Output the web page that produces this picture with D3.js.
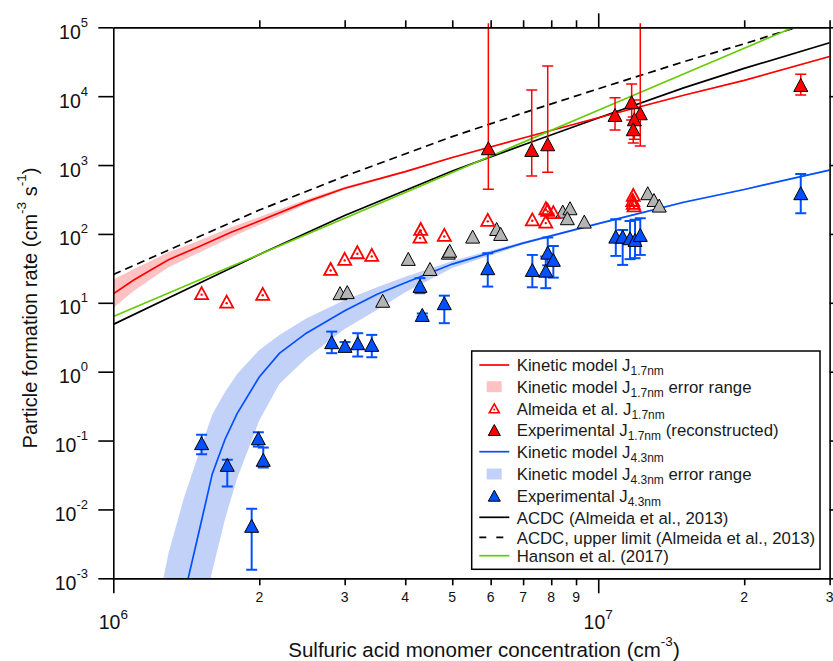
<!DOCTYPE html>
<html>
<head>
<meta charset="utf-8">
<script src="https://cdn.jsdelivr.net/npm/d3@7"></script>
<style>
body { margin: 0; background: #fff; }
svg { font-family: "Liberation Sans", Arial, sans-serif; }
</style>
</head>
<body>
<div id="chart"></div>
<script>
const width = 833,
    height = 661;

// kinetic model J1.7nm and its error range
const kinX17 = [1e6, 1.1e6, 1.2e6, 1.3e6, 1.5e6, 1.75e6, 2e6, 2.5e6, 3e6, 4e6, 5e6, 7e6, 1e7, 1.5e7, 2e7, 3e7];
const kinJ17 = [13.5, 21.2, 30.5, 42.3, 65.3, 106, 154, 292, 460, 802, 1285, 2473, 4860, 10300, 16950, 37700];
const kinHi17 = [21.6, 30.6, 41.2, 54.4, 79.8, 125, 176, 317, 483, 829, 1320, 2520, 4940, 10450, 17200, 38300];
const kinLo17 = [8.45, 14.7, 22.6, 32.9, 53.4, 89.7, 135, 269, 438, 776, 1251, 2425, 4780, 10150, 16700, 37100];

// kinetic model J4.3nm and its error range
const kinX43 = [1.2e6, 1.3e6, 1.4e6, 1.5e6, 1.6e6, 1.7e6, 1.8e6, 2e6, 2.2e6, 2.5e6, 3e6, 3.5e6, 4e6, 5e6, 7e6, 1e7, 1.5e7, 2e7, 3e7];
const kinJ43 = [1e-5, 7e-5, 5.6e-4, 4.55e-3, 0.0328, 0.1045, 0.2466, 0.837, 1.84, 3.62, 7.68, 13.3, 19.5, 36.5, 73.5, 141, 288, 442, 845];
const kinHi43 = [1.5e-4, 2.33e-3, 0.0151, 0.0637, 0.239, 0.509, 0.927, 2.06, 3.41, 5.94, 11.0, 16.8, 23.8, 40.6, 77.3, 145.5, 295, 454, 869];
const kinLo43 = [1e-6, 1e-5, 9.1e-5, 1.67e-4, 1.28e-3, 7.28e-3, 0.0281, 0.195, 0.665, 1.56, 4.18, 7.94, 14.2, 32.1, 70, 136, 280, 431, 824];

// ACDC, ACDC upper limit, Hanson et al.
const acdcX = [1e6, 1.5e6, 2e6, 3e6, 5e6, 7e6, 1e7, 1.5e7, 2e7, 3e7];
const acdcJ = [4.86, 19.1, 50.2, 185, 821, 1958, 4810, 13200, 25300, 59600];
const acdcUpX = [1e6, 1.5e6, 2e6, 3e6, 5e6, 7e6, 1e7, 1.5e7, 2e7, 2.61e7];
const acdcUpJ = [25.8, 91, 222, 688, 2590, 5700, 12800, 31600, 57600, 1.04e5];
const hansonX = [1e6, 2e6, 5e6, 1e7, 2e7, 2.53e7];
const hansonJ = [6.31, 50.2, 778, 6240, 49700, 1e5];

// Almeida et al. J1.7nm
const almX = [1.521e6, 1.713e6, 2.033e6, 2.807e6, 3.0e6, 3.186e6, 3.412e6, 4.305e6, 4.29e6, 4.815e6, 5.918e6,
    7.313e6, 7.795e6, 7.868e6, 8.08e6, 7.8e6, 1.181e7, 1.178e7, 1.181e7, 1.185e7];
const almJ = [13.8, 10.4, 13.5, 31, 43.4, 54.2, 49.6, 118, 91.4, 96.7, 160,
    163, 151, 223, 207, 236, 368, 311, 282, 259];

// grey points
const greyX = [2.935e6, 3.037e6, 3.594e6, 4.058e6, 4.499e6, 4.908e6, 4.94e6, 5.509e6, 6.174e6, 6.292e6,
    8.45e6, 8.746e6, 8.636e6, 9.361e6, 1.265e7, 1.303e7, 1.336e7];
const greyJ = [13.8, 14.3, 10.7, 43.4, 31, 53.5, 57, 91.4, 118, 100,
    211, 236, 169, 151, 390, 311, 258];

// experimental J1.7nm (reconstructed)
const exp17X = [5.935e6, 7.292e6, 7.867e6, 1.083e7, 1.172e7, 1.221e7, 1.187e7, 1.181e7, 2.616e7];
const exp17J = [1754, 1657, 2004, 5336, 8160, 5650, 4620, 3310, 14540];
const exp17Lo = [446, 695, 786, 3230, 4520, 1893, 2368, 2094, 10410];
const exp17Hi = [1e6, 12300, 27400, 9510, 15000, 1e6, 8810, 5000, 20780];

// experimental J4.3nm
const exp43X = [1.521e6, 1.718e6, 1.991e6, 2.038e6, 1.929e6, 2.821e6, 3.005e6, 3.192e6, 3.412e6, 4.29e6, 4.337e6, 4.815e6,
    5.918e6, 7.313e6, 7.795e6, 7.868e6, 8.08e6, 1.087e7, 1.123e7, 1.163e7, 1.191e7, 1.221e7, 2.616e7];
const exp43J = [0.0917, 0.0444, 0.108, 0.0525, 0.00578, 2.68, 2.37, 2.59, 2.45, 17.6, 6.67, 9.87,
    31.8, 30, 29.3, 53.5, 42, 91.4, 91.4, 86.6, 81.8, 96.7, 390];
const exp43Lo = [0.0635, 0.0215, 0.0818, 0.0406, 0.00133, 1.856, 2.1, 1.66, 1.62, 13.8, 6.3, 5.06,
    17.2, 16.8, 16.3, 35, 23.2, 48, 35.5, 43, 44.4, 49.6, 200];
const exp43Hi = [0.121, 0.0525, 0.132, 0.0791, 0.0102, 3.82, 2.69, 3.62, 3.42, 22.8, 7.0, 12.7,
    52.5, 49.6, 47, 88.4, 67, 163, 114, 154, 160, 169, 743];

const decades = d3.range(-3, 6).map(e => Math.pow(10, e));
const minorX = [2e6, 3e6, 4e6, 5e6, 6e6, 7e6, 8e6, 9e6, 2e7, 3e7];
const majorX = [1e6, 1e7];

const red = '#ff0000', pink = '#ffc2c2', blue = '#0050ff', lightBlue = '#c2d1f7',
    green = '#66cc00', grey = '#b4b4b4';

const zip = (xs, ys) => xs.map((v, i) => ({x: v, y: ys[i]}));

const svg = d3.select('#chart')
    .append('svg')
    .attr('width', width)
    .attr('height', height);

const x = d3.scaleLog().domain([1e6, 3e7]).range([113.3, 829.6]);
const y = d3.scaleLog().domain([1e-3, 1e5]).range([578.3, 27.3]);

const [x0, x1] = x.range(), [y0, y1] = y.range();

const defs = svg.append('defs');
defs.append('clipPath').attr('id', 'plot')
    .append('rect')
    .attr('x', x0).attr('y', y1).attr('width', x1 - x0).attr('height', y0 - y1);
defs.append('clipPath').attr('id', 'bars')
    .append('rect')
    .attr('x', x0).attr('y', y1 - 4).attr('width', x1 - x0).attr('height', y0 - y1 + 4);

const plot = svg.append('g').attr('clip-path', 'url(#plot)');

const area = d3.area()
    .x(d => x(d.x))
    .y0(d => y(d.lo))
    .y1(d => y(d.hi));

const line = d3.line()
    .x(d => x(d.x))
    .y(d => y(d.y));

// error ranges
plot.append('path')
    .attr('d', area(kinX17.map((v, i) => ({x: v, lo: kinLo17[i], hi: kinHi17[i]}))))
    .attr('fill', pink);

plot.append('path')
    .attr('d', area(kinX43.map((v, i) => ({x: v, lo: kinLo43[i], hi: kinHi43[i]}))))
    .attr('fill', lightBlue);

// model lines
const lines = [
    {data: zip(acdcUpX, acdcUpJ), color: '#000', dash: '8,5'},
    {data: zip(acdcX, acdcJ), color: '#000'},
    {data: zip(kinX17, kinJ17), color: red},
    {data: zip(hansonX, hansonJ), color: green},
    {data: zip(kinX43, kinJ43), color: blue}
];

plot.selectAll('path.model')
    .data(lines)
    .enter()
    .append('path')
    .attr('class', 'model')
    .attr('d', d => line(d.data))
    .attr('fill', 'none')
    .attr('stroke', d => d.color)
    .attr('stroke-width', 1.7)
    .attr('stroke-dasharray', d => d.dash || null);

const tri = (w, h) => `M0,${-h / 2}L${w / 2},${h / 2}L${-w / 2},${h / 2}Z`;

// grey points
plot.selectAll('path.grey')
    .data(zip(greyX, greyJ))
    .enter()
    .append('path')
    .attr('class', 'grey')
    .attr('transform', d => `translate(${x(d.x)},${y(d.y)})`)
    .attr('d', tri(14, 13))
    .attr('fill', grey)
    .attr('stroke', '#000')
    .attr('stroke-width', 1);

// Almeida et al.
const alm = plot.selectAll('g.alm')
    .data(zip(almX, almJ))
    .enter()
    .append('g')
    .attr('class', 'alm')
    .attr('transform', d => `translate(${x(d.x)},${y(d.y)})`);

alm.append('path')
    .attr('d', tri(13, 12))
    .attr('fill', 'none')
    .attr('stroke', red)
    .attr('stroke-width', 1.8);

alm.append('circle')
    .attr('cy', 1.5)
    .attr('r', 1.2)
    .attr('fill', red);

function errorBars(xs, ys, los, his, color, lw) {
    const g = svg.append('g').attr('clip-path', 'url(#bars)');
    const pts = xs.map((v, i) => ({x: v, y: ys[i], lo: los[i], hi: his[i]}));

    const bars = g.selectAll('g')
        .data(pts)
        .enter()
        .append('g')
        .attr('stroke', color)
        .attr('stroke-width', lw);

    bars.append('line')
        .attr('x1', d => x(d.x)).attr('x2', d => x(d.x))
        .attr('y1', d => y(d.lo)).attr('y2', d => y(d.hi));

    ['lo', 'hi'].forEach(k => {
        bars.append('line')
            .attr('x1', d => x(d.x) - 5.5).attr('x2', d => x(d.x) + 5.5)
            .attr('y1', d => y(d[k])).attr('y2', d => y(d[k]));
    });

    const marks = svg.append('g').attr('clip-path', 'url(#bars)');
    marks.selectAll('path')
        .data(pts)
        .enter()
        .append('path')
        .attr('transform', d => `translate(${x(d.x)},${y(d.y)})`)
        .attr('d', tri(14, 13))
        .attr('fill', color)
        .attr('stroke', '#000')
        .attr('stroke-width', 1);
}

errorBars(exp17X, exp17J, exp17Lo, exp17Hi, red, 1.5);
errorBars(exp43X, exp43J, exp43Lo, exp43Hi, blue, 2);

// axes
function styleAxis(g) {
    g.selectAll('.domain').attr('stroke', '#000').attr('stroke-width', 1.6);
    g.selectAll('.tick line').attr('stroke', '#000').attr('stroke-width', 1.6);
    g.selectAll('.tick text').remove();
}

svg.append('g')
    .attr('transform', `translate(${x0},0)`)
    .call(d3.axisLeft(y).tickValues(decades).tickSize(15).tickSizeOuter(0))
    .call(styleAxis);

svg.append('g')
    .attr('transform', `translate(${x1},0)`)
    .call(d3.axisRight(y).tickValues(decades).tickSize(10).tickSizeOuter(0))
    .call(styleAxis);

svg.append('g')
    .attr('transform', `translate(0,${y0})`)
    .call(d3.axisBottom(x).tickValues(minorX).tickSize(7).tickSizeOuter(0))
    .call(styleAxis);

svg.append('g')
    .attr('transform', `translate(0,${y0})`)
    .call(d3.axisBottom(x).tickValues(majorX).tickSize(15).tickSizeOuter(0))
    .call(styleAxis);

svg.append('g')
    .attr('transform', `translate(0,${y1})`)
    .call(d3.axisTop(x).tickValues(minorX).tickSize(7).tickSizeOuter(0))
    .call(styleAxis);

svg.append('g')
    .attr('transform', `translate(0,${y1})`)
    .call(d3.axisTop(x).tickValues([1e7]).tickSize(14).tickSizeOuter(0))
    .call(styleAxis);

// tick labels
const yLabels = svg.append('g')
    .selectAll('text')
    .data(decades)
    .enter()
    .append('text')
    .attr('x', 88)
    .attr('y', d => y(d) + 11.5)
    .attr('text-anchor', 'end')
    .attr('fill', '#111');

yLabels.append('tspan').attr('font-size', 19.5).text('10');
yLabels.append('tspan').attr('font-size', 13).attr('dy', -12)
    .text(d => String(Math.round(Math.log10(d))));

svg.append('g')
    .selectAll('text')
    .data(minorX)
    .enter()
    .append('text')
    .attr('x', d => x(d))
    .attr('y', 602)
    .attr('text-anchor', 'middle')
    .attr('font-size', 14)
    .attr('fill', '#111')
    .text(d => String(Math.round(d / Math.pow(10, Math.floor(Math.log10(d) + 1e-9)))));

const xMajor = svg.append('g')
    .selectAll('text')
    .data(majorX)
    .enter()
    .append('text')
    .attr('x', d => x(d))
    .attr('y', 628.5)
    .attr('text-anchor', 'middle')
    .attr('fill', '#111');

xMajor.append('tspan').attr('font-size', 19.5).text('10');
xMajor.append('tspan').attr('font-size', 13.5).attr('dy', -10)
    .text(d => String(Math.round(Math.log10(d))));

// axis titles
const xTitle = svg.append('text')
    .attr('x', 484)
    .attr('y', 657)
    .attr('text-anchor', 'middle')
    .attr('font-size', 20.5)
    .attr('fill', '#111');
xTitle.append('tspan').text('Sulfuric acid monomer concentration (cm');
xTitle.append('tspan').attr('font-size', 13.5).attr('dy', -11).text('-3');
xTitle.append('tspan').attr('dy', 11).text(')');

const yTitle = svg.append('text')
    .attr('transform', 'translate(37,308) rotate(-90)')
    .attr('text-anchor', 'middle')
    .attr('font-size', 20)
    .attr('fill', '#111');
yTitle.append('tspan').text('Particle formation rate (cm');
yTitle.append('tspan').attr('font-size', 13.5).attr('dy', -11).text('-3');
yTitle.append('tspan').attr('dy', 11).text(' s');
yTitle.append('tspan').attr('font-size', 13.5).attr('dy', -11).text('-1');
yTitle.append('tspan').attr('dy', 11).text(')');

// legend
const legendItems = [
    {kind: 'line', color: red, text: [['Kinetic model J'], ['1.7nm', 1]]},
    {kind: 'rect', color: pink, text: [['Kinetic model J'], ['1.7nm', 1], [' error range']]},
    {kind: 'open', color: red, text: [['Almeida et al. J'], ['1.7nm', 1]]},
    {kind: 'tri', color: red, text: [['Experimental J'], ['1.7nm', 1], [' (reconstructed)']]},
    {kind: 'line', color: blue, text: [['Kinetic model J'], ['4.3nm', 1]]},
    {kind: 'rect', color: lightBlue, text: [['Kinetic model J'], ['4.3nm', 1], [' error range']]},
    {kind: 'tri', color: blue, text: [['Experimental J'], ['4.3nm', 1]]},
    {kind: 'line', color: '#000', text: [['ACDC (Almeida et al., 2013)']]},
    {kind: 'dash', color: '#000', text: [['ACDC, upper limit (Almeida et al., 2013)']]},
    {kind: 'line', color: green, text: [['Hanson et al. (2017)']]}
];
const rowY = [365, 386.7, 408.3, 430, 451.7, 474, 495.7, 517.3, 537.3, 555.7];

const legend = svg.append('g').attr('id', 'legend');

legend.append('rect')
    .attr('x', 471.7)
    .attr('y', 351)
    .attr('width', 348.3)
    .attr('height', 218.3)
    .attr('fill', '#fff')
    .attr('stroke', '#000')
    .attr('stroke-width', 1.5);

const rows = legend.selectAll('g.row')
    .data(legendItems)
    .enter()
    .append('g')
    .attr('class', 'row')
    .attr('transform', (d, i) => `translate(0,${rowY[i]})`);

rows.each(function(d) {
    const g = d3.select(this);
    if (d.kind === 'line' || d.kind === 'dash') {
        g.append('line')
            .attr('x1', 479.3).attr('x2', 509.3)
            .attr('stroke', d.color)
            .attr('stroke-width', 1.7)
            .attr('stroke-dasharray', d.kind === 'dash' ? '7,10' : null);
    } else if (d.kind === 'rect') {
        g.append('rect')
            .attr('x', 486.7).attr('y', -5.5)
            .attr('width', 15).attr('height', 11)
            .attr('fill', d.color);
    } else if (d.kind === 'open') {
        g.append('path')
            .attr('transform', 'translate(494.3,0)')
            .attr('d', tri(10, 9))
            .attr('fill', 'none')
            .attr('stroke', d.color)
            .attr('stroke-width', 1.6);
        g.append('circle')
            .attr('cx', 494.3).attr('cy', 1.2).attr('r', 1)
            .attr('fill', d.color);
    } else {
        g.append('path')
            .attr('transform', 'translate(494.3,0)')
            .attr('d', tri(12, 11))
            .attr('fill', d.color)
            .attr('stroke', '#000')
            .attr('stroke-width', 1);
    }

    const t = g.append('text')
        .attr('x', 516.7)
        .attr('y', 6.3)
        .attr('font-size', 16.8)
        .attr('fill', '#1a1a1a');

    let shifted = false;
    d.text.forEach(([s, sub]) => {
        const span = t.append('tspan').text(s);
        if (sub) {
            span.attr('font-size', 12).attr('dy', 4);
            shifted = true;
        } else if (shifted) {
            span.attr('dy', -4);
            shifted = false;
        }
    });
});
</script>
</body>
</html>
